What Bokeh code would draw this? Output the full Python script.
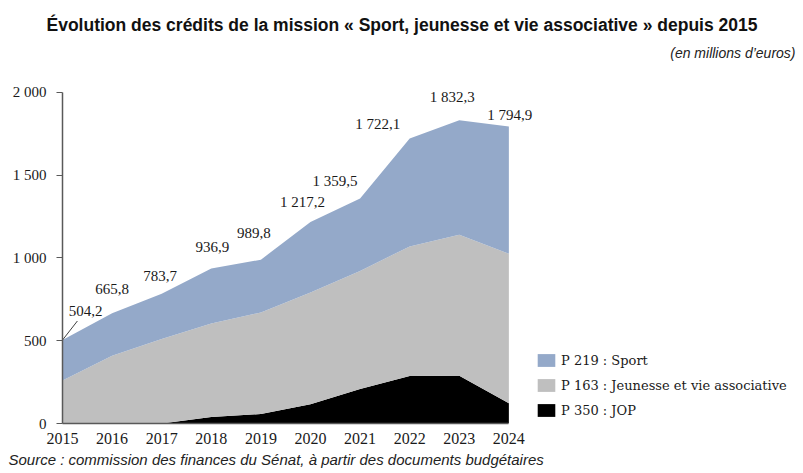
from bokeh.plotting import figure
from bokeh.models import (Range1d, FixedTicker, Legend, LegendItem, Label,
                          LabelSet, ColumnDataSource, Title)
from bokeh.embed import file_html
from bokeh.resources import INLINE

years = [2015, 2016, 2017, 2018, 2019, 2020, 2021, 2022, 2023, 2024]
p350_jop = [0, 0, 0, 40, 57, 117, 208, 287, 289, 123]
p163_jeunesse = [260, 409, 510, 564, 614, 675, 714, 783, 851, 902]
p219_sport = [244.2, 256.8, 273.7, 332.9, 318.8, 425.2, 437.5, 652.1, 692.3, 769.9]
totals = [504.2, 665.8, 783.7, 936.9, 989.8, 1217.2, 1359.5, 1722.1, 1832.3, 1794.9]
total_labels = ["504,2", "665,8", "783,7", "936,9", "989,8", "1 217,2",
                "1 359,5", "1 722,1", "1 832,3", "1 794,9"]
y_ticks = [0, 500, 1000, 1500, 2000]
y_tick_labels = ["0", "500", "1 000", "1 500", "2 000"]

series_names = ["P 350 : JOP", "P 163 : Jeunesse et vie associative", "P 219 : Sport"]
colors = ["#000000", "#bfbfbf", "#94a9c9"]

# label placement (screen px offsets from each point)
lab_dx = [23, 0, -1.5, 1, -7, -8, -25, -32, -7, 1]
lab_dy = [29, 24, 18, 21, 27, 20, 17, 14, 23, 11]

src = ColumnDataSource(dict(year=years, jop=p350_jop, jeu=p163_jeunesse,
                            sport=p219_sport))

# frame spans to the right edge so labels/legend are not clipped
p = figure(width=800, height=470, output_backend="svg", toolbar_location=None,
           x_range=Range1d(2015, 2029.88), y_range=Range1d(0, 2314),
           min_border_left=62, min_border_right=0, min_border_top=40,
           min_border_bottom=47)
p.outline_line_color = None
p.xgrid.visible = False
p.ygrid.visible = False
p.background_fill_color = "white"
p.border_fill_color = "white"

p.title.text = "Évolution des crédits de la mission « Sport, jeunesse et vie associative » depuis 2015"
p.title.align = "left"
p.title.offset = -16
p.title.standoff = 11
p.title.text_font = "Liberation Sans"
p.title.text_font_style = "bold"
p.title.text_font_size = "17.5px"
p.title.text_color = "#111111"

rs = p.varea_stack(stackers=["jop", "jeu", "sport"], x="year", color=colors,
                   source=src)

# axes
for ax in (p.xaxis[0], p.yaxis[0]):
    ax.axis_line_color = "#595959"
    ax.axis_line_width = 1.5
    ax.major_label_text_font = "Liberation Serif"
    ax.major_label_text_color = "#1a1a1a"
    ax.minor_tick_line_color = None
    ax.major_tick_line_color = "#595959"

p.xaxis.bounds = (2015, 2024)
p.xaxis.ticker = FixedTicker(ticks=years)
p.xaxis.major_tick_out = 0
p.xaxis.major_tick_in = 0
p.xaxis.major_label_standoff = 9
p.xaxis.major_label_text_font_size = "16px"

p.yaxis.bounds = (0, 2000)
p.yaxis.ticker = FixedTicker(ticks=y_ticks)
p.yaxis.major_label_overrides = {t: l for t, l in zip(y_ticks, y_tick_labels)}
p.yaxis.major_tick_out = 6
p.yaxis.major_tick_in = 0
p.yaxis.major_label_standoff = 10
p.yaxis.major_label_text_font_size = "15px"

# data labels
lsrc = ColumnDataSource(dict(x=years, y=totals, t=total_labels, dx=lab_dx, dy=lab_dy))
p.add_layout(LabelSet(x="x", y="y", text="t", x_offset="dx", y_offset="dy",
                      source=lsrc, text_align="center", text_baseline="middle",
                      text_font="Liberation Serif", text_font_size="15px",
                      text_color="#1a1a1a"))
# leader line for the first label
p.segment(x0=[years[0]], y0=[totals[0]], x1=[years[0] + 0.3], y1=[totals[0] + 115],
          line_color="#404040", line_width=1)

# legend
items = [LegendItem(label=series_names[2], renderers=[rs[2]]),
         LegendItem(label=series_names[1], renderers=[rs[1]]),
         LegendItem(label=series_names[0], renderers=[rs[0]])]
legend = Legend(items=items, location=(473, 5), padding=0, margin=0, spacing=9,
                glyph_width=22, glyph_height=16, label_height=16, label_standoff=4,
                label_text_font="DejaVu Serif", label_text_font_size="13px",
                label_text_color="#1a1a1a", border_line_alpha=0,
                background_fill_alpha=0)
p.add_layout(legend)

# subtitle (inside frame, near its top right)
p.add_layout(Label(x=733, y=371, x_units="screen", y_units="screen",
                   text="(en millions d’euros)", text_align="right",
                   text_baseline="middle", text_font="Liberation Sans",
                   text_font_style="italic", text_font_size="14px",
                   text_color="#222222"))

# source below the axis
p.add_layout(Title(text="Source : commission des finances du Sénat, à partir des documents budgétaires",
                   align="left", offset=-54, standoff=4, text_font="Liberation Sans",
                   text_font_style="italic", text_font_size="15px",
                   text_color="#222222"), "below")

open("out.html", "w").write(file_html(p, INLINE))
